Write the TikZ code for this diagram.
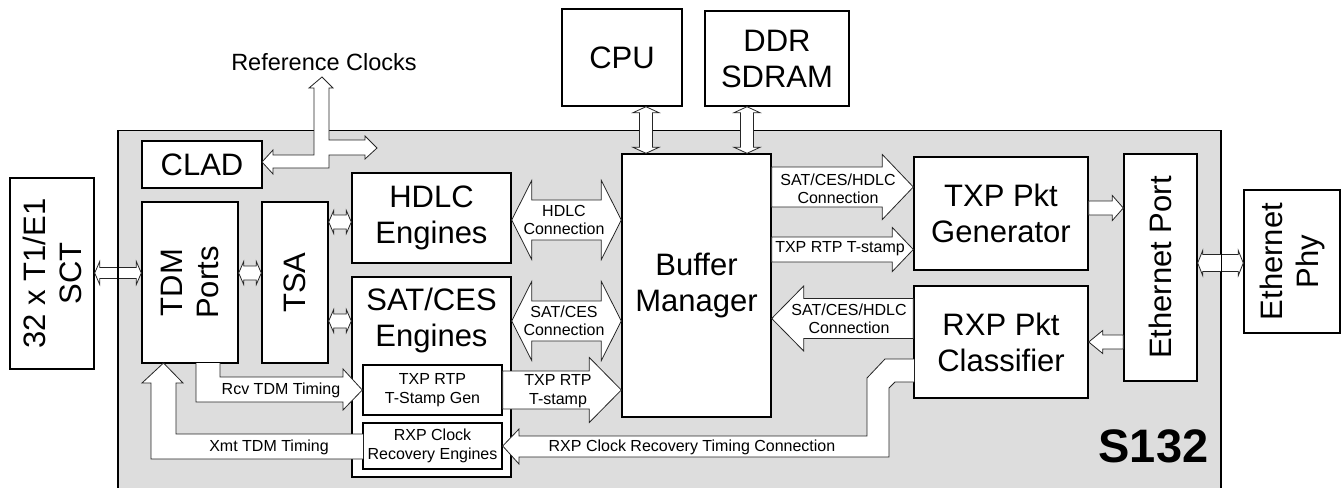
\documentclass[tikz,border=0pt]{standalone}
\usepackage{fontspec}
\setmainfont{Liberation Sans}
\usetikzlibrary{calc}

\definecolor{chipgray}{RGB}{221,221,221}

\tikzset{
  chip/.style={draw, line width=1.4pt, fill=chipgray, inner sep=0pt},
  box/.style={draw, line width=1.4pt, fill=white, inner sep=0pt},
  bigtxt/.style={font=\fontsize{31}{36}\selectfont, align=center},
  smalltxt/.style={font=\fontsize{16}{18.5}\selectfont, align=center, inner sep=0pt},
  blk/.style={draw=black!85, line width=0.8pt, fill=white},
}

% block arrow, one head: start, tip, y, shaft half, head half, head length
\newcommand{\hsarrow}[6]{%
  \draw[blk] let \p1=(#1), \p2=(#2), \p3=(0,#3), \n1={(\x2>\x1)?1:-1} in
    (\x1,\y3+#4pt) -- (\x2-\n1*#6pt,\y3+#4pt) -- (\x2-\n1*#6pt,\y3+#5pt) -- (\x2,\y3)
    -- (\x2-\n1*#6pt,\y3-#5pt) -- (\x2-\n1*#6pt,\y3-#4pt) -- (\x1,\y3-#4pt) -- cycle;}
% block arrow, two heads, horizontal
\newcommand{\hdarrow}[6]{%
  \draw[blk] let \p1=(#1), \p2=(#2), \p3=(0,#3), \n1={(\x2>\x1)?1:-1} in
    (\x1,\y3) -- (\x1+\n1*#6pt,\y3+#5pt) -- (\x1+\n1*#6pt,\y3+#4pt)
    -- (\x2-\n1*#6pt,\y3+#4pt) -- (\x2-\n1*#6pt,\y3+#5pt) -- (\x2,\y3)
    -- (\x2-\n1*#6pt,\y3-#5pt) -- (\x2-\n1*#6pt,\y3-#4pt)
    -- (\x1+\n1*#6pt,\y3-#4pt) -- (\x1+\n1*#6pt,\y3-#5pt) -- cycle;}
% block arrow, two heads, vertical
\newcommand{\vdarrow}[6]{%
  \draw[blk] let \p1=(#1), \p2=(#2), \p3=(#3,0), \n1={(\y2>\y1)?1:-1} in
    (\x3,\y1) -- (\x3+#5pt,\y1+\n1*#6pt) -- (\x3+#4pt,\y1+\n1*#6pt)
    -- (\x3+#4pt,\y2-\n1*#6pt) -- (\x3+#5pt,\y2-\n1*#6pt) -- (\x3,\y2)
    -- (\x3-#5pt,\y2-\n1*#6pt) -- (\x3-#4pt,\y2-\n1*#6pt)
    -- (\x3-#4pt,\y1+\n1*#6pt) -- (\x3-#5pt,\y1+\n1*#6pt) -- cycle;}

\begin{document}
\begin{tikzpicture}[x=1pt,y=-1pt]
\useasboundingbox (0,0) rectangle (1343,487);
\node[chip, minimum width=1102pt, minimum height=370pt, anchor=north west] (s132box) at (118,130) {};

% outside the chip
\node[box, minimum width=84pt, minimum height=191pt] (sct) at (52,273.5) {};
\node[bigtxt, rotate=90] (scttxt) at (sct) {32 x T1/E1\\SCT};
\node[box, bigtxt, minimum width=120pt, minimum height=97pt] (cpu) at (622,57.5) {CPU};
\node[box, bigtxt, minimum width=144pt, minimum height=95pt] (ddr) at (777,58.5) {DDR\\SDRAM};
\node[box, minimum width=96pt, minimum height=143pt] (ethphy) at (1292,261.5) {};
\node[bigtxt, rotate=90] (phytxt) at (ethphy) {Ethernet\\Phy};

% inside the chip
\node[box, bigtxt, minimum width=120pt, minimum height=47pt] (clad) at (202,164.5) {CLAD};
\node[box, minimum width=96pt, minimum height=161pt] (tdm) at (190,282.5) {};
\node[bigtxt, rotate=90] (tdmtxt) at (tdm) {TDM\\Ports};
\node[box, minimum width=66pt, minimum height=161pt] (tsa) at (295,282.5) {};
\node[bigtxt, rotate=90] (tsatxt) at (tsa) {TSA};
\node[box, bigtxt, minimum width=159pt, minimum height=90pt] (hdlc) at (431.5,218) {HDLC\\Engines};
\node[box, minimum width=159pt, minimum height=200pt] (satces) at (431.5,377) {};
\node[bigtxt] (satcestxt) at (431.5,320) {SAT/CES\\Engines};
\node[box, smalltxt, minimum width=139pt, minimum height=50pt] (stampgen) at (432.5,390) {TXP RTP\\T-Stamp Gen};
\node[box, smalltxt, minimum width=139pt, minimum height=46pt] (clkrec) at (432.5,446) {RXP Clock\\Recovery Engines};
\node[box, bigtxt, minimum width=149pt, minimum height=263pt] (bm) at (696.5,285.5) {Buffer\\Manager};
\node[box, bigtxt, minimum width=174pt, minimum height=113pt] (txpgen) at (1001,213.5) {TXP Pkt\\Generator};
\node[box, bigtxt, minimum width=174pt, minimum height=112pt] (rxpcls) at (1001,342) {RXP Pkt\\Classifier};
\node[box, minimum width=73pt, minimum height=227pt] (ethport) at (1160.5,267.5) {};
\node[bigtxt, rotate=90] (porttxt) at (ethport) {Ethernet Port};

% straight block arrows
\hdarrow{sct.east}{tdm.west}{273}{5.5}{11.5}{5}
\hdarrow{tdm.east}{tsa.west}{273}{7}{11.5}{5}
\hdarrow{tsa.east}{hdlc.west}{222}{7}{11.5}{5}
\hdarrow{tsa.east}{satces.west}{321}{7}{11.5}{5}
\hdarrow{hdlc.east}{bm.west}{220}{20}{39.5}{20}
\hdarrow{satces.east}{bm.west}{321}{20}{39.5}{20}
\hsarrow{stampgen.east}{bm.west}{390}{19}{32.5}{32}
\vdarrow{cpu.south}{bm.north}{646}{6.5}{13}{6}
\vdarrow{ddr.south}{bm.north}{747}{6.5}{13}{6}
\hsarrow{bm.east}{txpgen.west}{187}{20}{32.5}{31}
\hsarrow{bm.east}{txpgen.west}{249.5}{12.5}{22}{21}
\hsarrow{rxpcls.west}{bm.east}{318.5}{20}{32.5}{32}
\hsarrow{txpgen.east}{ethport.west}{208}{7}{12.5}{11}
\hsarrow{ethport.west}{rxpcls.east}{342}{7}{11.5}{14}
\hdarrow{ethport.east}{ethphy.west}{263}{8.5}{12.5}{5}

% bent block arrows
\draw[blk] (196,363) -- (196,402) -- (343,402) -- (343,410) -- (stampgen.west)
  -- (343,369) -- (343,377) -- (220,377) -- (220,363);
\draw[blk] (363,434) -- (176,434) -- (176,383) -- (183,383) -- (163.5,363)
  -- (142,383) -- (151,383) -- (151,459) -- (363,459);
\draw[blk] (914,359) -- (885,359) -- (867,378) -- (867,436) -- (519,436) -- (519,429)
  -- (clkrec.east) -- (519,464) -- (519,457) -- (889,457) -- (889,388) -- (895,382) -- (914,382);
\draw[blk] (322,77) -- (333,88) -- (329,88) -- (329,140) -- (365,140) -- (365,136)
  -- (377,148) -- (365,159) -- (365,155) -- (329,155) -- (329,168) -- (273,168)
  -- (273,174) -- (262,162) -- (273,150) -- (273,155) -- (314,155) -- (314,88)
  -- (309,88) -- cycle;

% chip sides over the arrows
\draw[line width=1.4pt] (s132box.north west) -- (s132box.south west)
  (s132box.north east) -- (s132box.south east);

% arrow labels
\node[smalltxt] (hdlcconn) at (564,220) {HDLC\\Connection};
\node[smalltxt] (satconn) at (564,321) {SAT/CES\\Connection};
\node[smalltxt] (stamplbl) at (558,391) {TXP RTP\\T-stamp};
\node[smalltxt] (txconn) at (838,189) {SAT/CES/HDLC\\Connection};
\node[smalltxt] (txstamp) at (840,249) {TXP RTP T-stamp};
\node[smalltxt] (rxconn) at (849,319) {SAT/CES/HDLC\\Connection};
\node[smalltxt] (rcvlbl) at (281,390) {Rcv TDM Timing};
\node[smalltxt] (xmtlbl) at (269,447) {Xmt TDM Timing};
\node[smalltxt] (rxtiming) at (692,447) {RXP Clock Recovery Timing Connection};
\node[font=\fontsize{23.5}{26}\selectfont] (refclk) at (324,62) {Reference Clocks};
\node[font=\fontsize{47}{50}\selectfont\bfseries] (s132) at (1153.5,446.5) {S132};
\end{tikzpicture}
\end{document}
